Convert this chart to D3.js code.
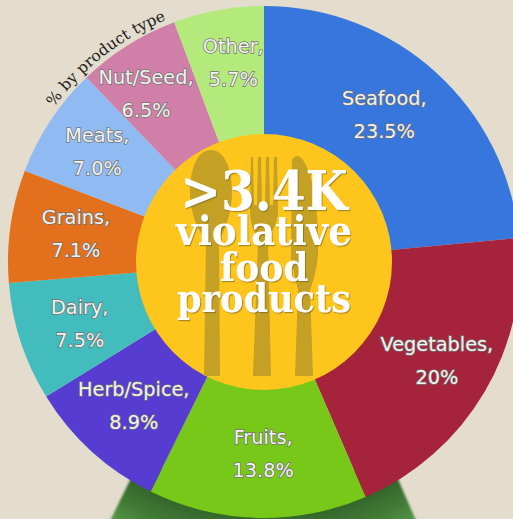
<!DOCTYPE html>
<html>
<head>
<meta charset="utf-8">
<script src="https://cdn.jsdelivr.net/npm/d3@7"></script>
<style>
  html, body { margin: 0; padding: 0; background: #e4dccd; }
  svg { display: block; }
  .slice-label { font-family: "DejaVu Sans", sans-serif; font-size: 19.3px; fill: #f2f2ee;
                 stroke: #737373; stroke-width: 1.5px; paint-order: stroke; text-anchor: middle; }
  .hub-text { font-family: "DejaVu Serif Condensed", "DejaVu Serif", serif; font-weight: 700; fill: #fff;
              text-anchor: middle; filter: url(#hubShadow); }
</style>
</head>
<body>
<script>
// Share of violative food products by type
const categories = ["Seafood", "Vegetables", "Fruits", "Herb/Spice", "Dairy", "Grains", "Meats", "Nut/Seed", "Other"];
const shares = [23.5, 20, 13.8, 8.9, 7.5, 7.1, 7.0, 6.5, 5.7];
const shareLabels = ["23.5%", "20%", "13.8%", "8.9%", "7.5%", "7.1%", "7.0%", "6.5%", "5.7%"];
const sliceColors = ["#3776dc", "#a6233c", "#78c81a", "#563cd0", "#42bcbc", "#e2701c", "#8fbaf2", "#d080a8", "#b4ea7c"];
const hubLines = [">3.4K", "violative", "food", "products"];
const arcCaption = "% by product type";

const width = 513, height = 519;
const cx = 264, cy = 262, outerR = 256, hubR = 128;
// Per-slice nudge of each label away from its arc centroid
const labelNudgeX = [-11, 5, 4, 1, 1, 5, -4, -14, 4];
const labelNudgeY = [-4, -1, -4, -1, 0, -2, -3, -4, -8];

const svg = d3.select("body").append("svg").attr("width", width).attr("height", height);
const defs = svg.append("defs");

const shadow = defs.append("filter").attr("id", "hubShadow")
  .attr("x", "-10%").attr("y", "-10%").attr("width", "120%").attr("height", "130%");
shadow.append("feDropShadow").attr("dx", 1).attr("dy", 1.2).attr("stdDeviation", 0.6)
  .attr("flood-color", "#6b5a20").attr("flood-opacity", 0.55);

const soft = defs.append("filter").attr("id", "softEdge")
  .attr("x", "-10%").attr("y", "-10%").attr("width", "120%").attr("height", "120%");
soft.append("feGaussianBlur").attr("stdDeviation", 1.2);

const pieShade = defs.append("radialGradient").attr("id", "pieShade")
  .attr("gradientUnits", "userSpaceOnUse").attr("cx", cx).attr("cy", cy).attr("r", 300);
pieShade.append("stop").attr("offset", "0.85").attr("stop-color", "#34662b");
pieShade.append("stop").attr("offset", "0.93").attr("stop-color", "#427c36");
pieShade.append("stop").attr("offset", "1").attr("stop-color", "#56984a");

// Green stem rising behind the pie
svg.append("path")
  .attr("d", "M135,470 L394,470 L418,525 L108,525 Z")
  .attr("fill", "url(#pieShade)")
  .attr("filter", "url(#softEdge)");

const root = svg.append("g").attr("transform", `translate(${cx},${cy})`);

const pie = d3.pie().value(d => d).sort(null);
const arc = d3.arc().innerRadius(0).outerRadius(outerR);
const centroidArc = d3.arc().innerRadius(195).outerRadius(195);
const arcs = pie(shares);

root.selectAll("path.slice").data(arcs).join("path")
  .attr("class", "slice")
  .attr("d", arc)
  .attr("fill", (d, i) => sliceColors[i]);

// Hub disc
root.append("circle").attr("r", hubR).attr("fill", "#fec61c");

// Spoon, fork and knife silhouettes on the hub
const cutlery = root.append("g").attr("fill", "#c4a024")
  .attr("transform", `translate(${-cx},${-cy})`);
cutlery.append("path").attr("d",
  "M211,150 C225,150 232,170 232,192 C232,214 224,232 219,240 L220,376 L204,376 L206,240 C199,232 190,214 190,192 C190,170 197,150 211,150 Z");
cutlery.append("path").attr("d",
  "M251,157 L253,157 L254,205 L257,205 L258,157 L261,157 L262,205 L265,205 L266,157 L269,157 L270,205 L273,205 L274,157 L277,157 L278,210 C278,226 270,232 268,240 L271,376 L253,376 L258,240 C255,232 250,226 250,210 Z");
cutlery.append("path").attr("d",
  "M292,160 C296,152 303,156 308,170 C316,190 319,225 318,255 C317,270 312,285 310,290 L313,376 L295,376 L298,290 L291,260 Z");

// Hub headline
const hubGroup = root.append("g").attr("transform", `translate(${-cx},${-cy})`);
const hubBaselines = [210, 245, 281, 312];
const hubSizes = [54, 41.5, 40, 39];
hubLines.forEach((line, i) => {
  hubGroup.append("text").attr("class", "hub-text")
    .attr("x", cx).attr("y", hubBaselines[i])
    .style("font-size", hubSizes[i] + "px")
    .text(line);
});

// Slice labels on two lines: name, then share
const labels = root.selectAll("g.slice-label-group").data(arcs).join("g")
  .attr("class", "slice-label-group")
  .attr("transform", (d, i) => {
    const [x, y] = centroidArc.centroid(d);
    return `translate(${x + labelNudgeX[i]},${y + labelNudgeY[i]})`;
  });
labels.append("text").attr("class", "slice-label").attr("y", -9)
  .text((d, i) => categories[i] + ",");
labels.append("text").attr("class", "slice-label").attr("y", 24)
  .text((d, i) => shareLabels[i]);

// Caption following the rim of the pie
const captionArc = d3.path();
captionArc.arc(0, 0, outerR + 5, -Math.PI * 0.798, -Math.PI * 0.5);
defs.append("path").attr("id", "captionPath").attr("d", captionArc.toString());
root.append("text")
  .style("font-family", '"DejaVu Serif", serif')
  .style("font-size", "15.5px")
  .style("fill", "#222")
  .append("textPath").attr("href", "#captionPath")
  .text(arcCaption);
</script>
</body>
</html>
